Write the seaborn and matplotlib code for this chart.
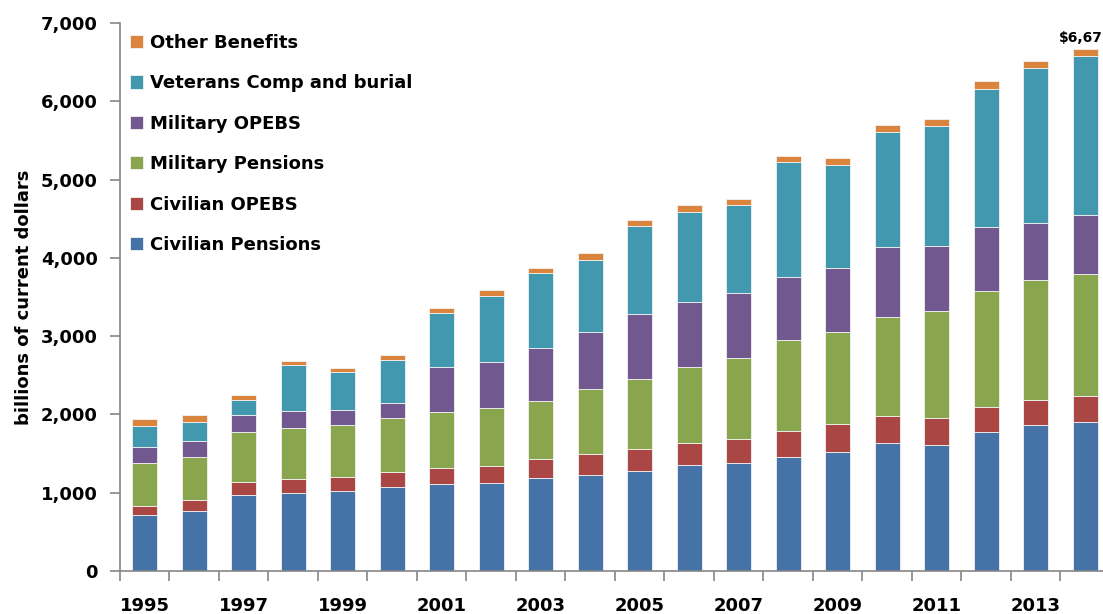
import matplotlib
matplotlib.use("Agg")
import matplotlib.pyplot as plt
import seaborn as sns
import pandas as pd
import numpy as np

years = list(range(1995, 2015))
civilian_pensions = [719, 770, 975, 992, 1022, 1069, 1107, 1120, 1188, 1222,
                     1273, 1350, 1385, 1450, 1525, 1630, 1615, 1770, 1860, 1900]
civilian_opebs = [115, 133, 158, 183, 178, 199, 208, 225, 242, 268,
                  289, 289, 305, 340, 350, 350, 345, 325, 330, 335]
military_pensions = [545, 553, 642, 647, 665, 690, 712, 733, 741, 838,
                     890, 966, 1030, 1155, 1175, 1260, 1355, 1480, 1525, 1560]
military_opebs = [209, 204, 213, 225, 195, 188, 574, 587, 677, 720,
                  834, 834, 835, 815, 815, 900, 840, 825, 735, 755]
veterans_comp = [268, 239, 200, 580, 481, 545, 690, 851, 954, 928,
                 1116, 1150, 1120, 1465, 1315, 1470, 1530, 1760, 1975, 2027]
other_benefits = [89, 93, 56, 51, 52, 64, 64, 69, 68, 81,
                  77, 81, 80, 80, 90, 90, 95, 95, 95, 95]

series = {
    "Other Benefits": other_benefits,
    "Veterans Comp and burial": veterans_comp,
    "Military OPEBS": military_opebs,
    "Military Pensions": military_pensions,
    "Civilian OPEBS": civilian_opebs,
    "Civilian Pensions": civilian_pensions,
}
colors = {
    "Other Benefits": "#DB843D",
    "Veterans Comp and burial": "#4198AF",
    "Military OPEBS": "#71588F",
    "Military Pensions": "#89A54E",
    "Civilian OPEBS": "#AA4643",
    "Civilian Pensions": "#4572A7",
}

rows = []
for name, vals in series.items():
    for y, v in zip(years, vals):
        rows.append({"year": y, "component": name, "value": v})
df = pd.DataFrame(rows)

sns.set_theme(style="white")
plt.rcParams["font.family"] = ["DejaVu Sans"]
plt.rcParams["font.weight"] = "bold"
plt.rcParams["text.color"] = "black"
plt.rcParams["xtick.color"] = "black"
plt.rcParams["ytick.color"] = "black"
plt.rcParams["axes.labelcolor"] = "black"

fig = plt.figure(figsize=(11.03, 6.14), dpi=100)
ax = fig.add_axes([120 / 1103, 1 - 571 / 614, 990 / 1103, 548 / 614])

sns.histplot(data=df, x="year", weights="value", hue="component",
             hue_order=list(series.keys()), palette=colors,
             multiple="stack", discrete=True, shrink=0.5,
             edgecolor="#f2f2f2", linewidth=0.6, alpha=1, ax=ax)

ax.set_xlim(1994.5, 2014.5)
ax.set_ylim(0, 7000)
ax.set_yticks(range(0, 7001, 1000))
ax.set_yticklabels([f"{v:,}" for v in range(0, 7001, 1000)], fontsize=13, fontweight="bold")
ax.set_xticks(years[::2])
ax.set_xticklabels([str(y) for y in years[::2]], fontsize=13, fontweight="bold")
ax.set_xticks(np.arange(1994.5, 2015, 1), minor=True)
ax.tick_params(axis="x", which="major", bottom=True, length=0, pad=18.5)
ax.tick_params(axis="x", which="minor", bottom=True, length=7, color="#868686",
               width=1.2, direction="out")
ax.tick_params(axis="y", left=True, length=7, color="#868686", labelcolor="black",
               width=1.2, direction="out", pad=9)
ax.set_xlabel("")
ax.set_ylabel("billions of current dollars", fontsize=13, fontweight="bold", labelpad=6)

for s in ["top", "right"]:
    ax.spines[s].set_visible(False)
for s in ["left", "bottom"]:
    ax.spines[s].set_color("#868686")
    ax.spines[s].set_linewidth(1.2)

total = sum(vals[-1] for vals in series.values())
ax.annotate(f"${total:,}", xy=(years[-1], total), xytext=(0, 3),
            textcoords="offset points", ha="center", va="bottom",
            fontsize=10, fontweight="bold")

sns.move_legend(ax, "upper left", bbox_to_anchor=(-0.003, 1.003), frameon=False,
                title=None, fontsize=13, labelspacing=1.24, handlelength=0.75,
                handleheight=0.75, handletextpad=0.4, borderaxespad=0.3)
for t in ax.get_legend().get_texts():
    t.set_fontweight("bold")

fig.savefig("out.png", dpi=100)
